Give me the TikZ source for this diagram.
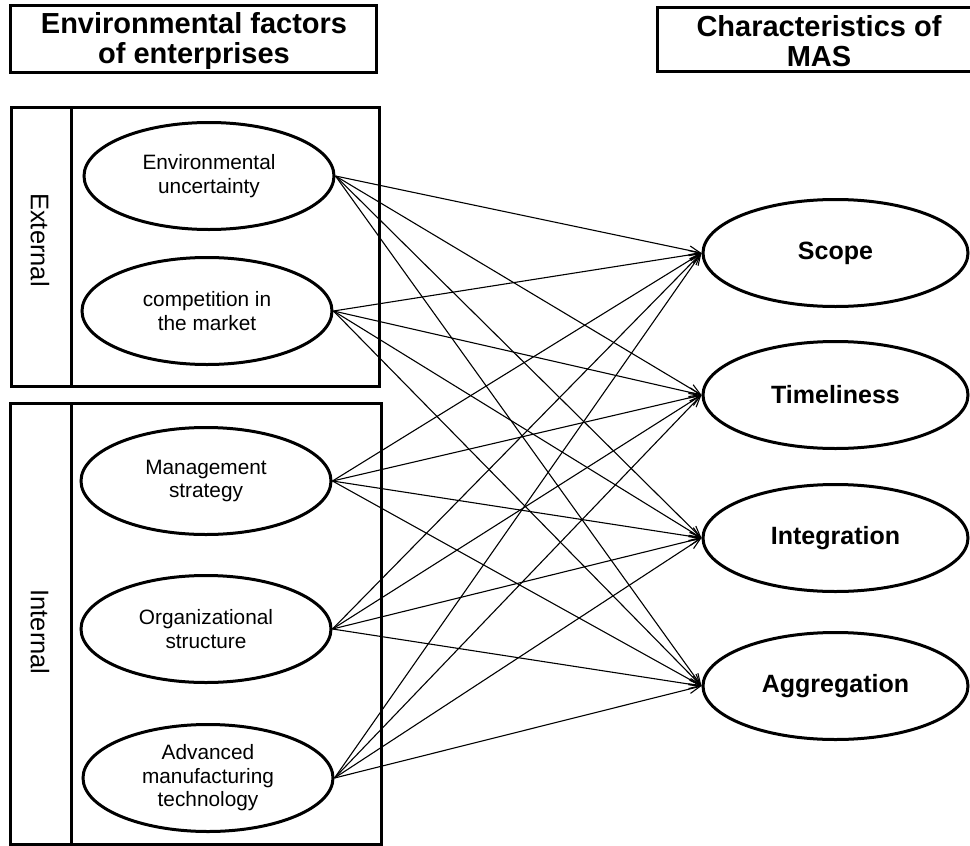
\documentclass[tikz,border=0pt]{standalone}
\usepackage{fontspec}
\setmainfont{Liberation Sans}
\usetikzlibrary{shapes.geometric,arrows.meta}
\begin{document}
\begin{tikzpicture}[x=1pt,y=-1pt,
  frame/.style={draw, line width=3pt},
  lell/.style={ellipse, draw, line width=3pt, minimum width=250pt, minimum height=107pt, inner sep=0pt, align=center, font=\fontsize{20.8}{23.5}\selectfont},
  rell/.style={ellipse, draw, line width=3pt, minimum width=265pt, minimum height=107pt, inner sep=0pt, font=\fontsize{25}{26}\selectfont\bfseries},
  hdr/.style={align=center, font=\fontsize{29}{29.5}\selectfont\bfseries, inner sep=0pt},
  side/.style={rotate=-90, font=\fontsize{25.5}{26}\selectfont, inner sep=0pt},
  conn/.style={-{Straight Barb[length=11pt,width=9pt]}, line width=1.1pt}]
\useasboundingbox (0,0) rectangle (970,846);

% headers
\draw[frame] (10,5) rectangle (376,72);
\node[hdr] (h1) at (194,41) {Environmental factors\\of enterprises};
\draw[frame] (970,7) -- (657,7) -- (657,71) -- (970,71);
\node[hdr] (h2) at (819,41) {Characteristics of\\MAS};

% group boxes
\draw[frame] (11,107) rectangle (379,386);
\draw[frame] (71,107) -- (71,386);
\draw[frame] (10,403) rectangle (381,844);
\draw[frame] (71,403) -- (71,844);
\node[side] (ext) at (40,240) {External};
\node[side] (int) at (40,632) {Internal};

% left ellipses
\node[lell] (eu)  at (209,176) {Environmental\\uncertainty};
\node[lell] (cm)  at (207,311) {competition in\\the market};
\node[lell] (ms)  at (206,481) {Management\\strategy};
\node[lell] (os)  at (206,629) {Organizational\\structure};
\node[lell] (amt) at (208,778) {Advanced\\manufacturing\\technology};

% right ellipses
\node[rell] (sc) at (835.5,253) {Scope};
\node[rell] (ti) at (835.5,395) {Timeliness};
\node[rell] (ig) at (835.5,538) {Integration};
\node[rell] (ag) at (835.5,686) {Aggregation};

% connectors
\foreach \s in {eu,cm,ms,os,amt}{
  \foreach \t in {sc,ti,ig,ag}{
    \draw[conn] (\s.east) -- (\t.west);
  }
}
\end{tikzpicture}
\end{document}
